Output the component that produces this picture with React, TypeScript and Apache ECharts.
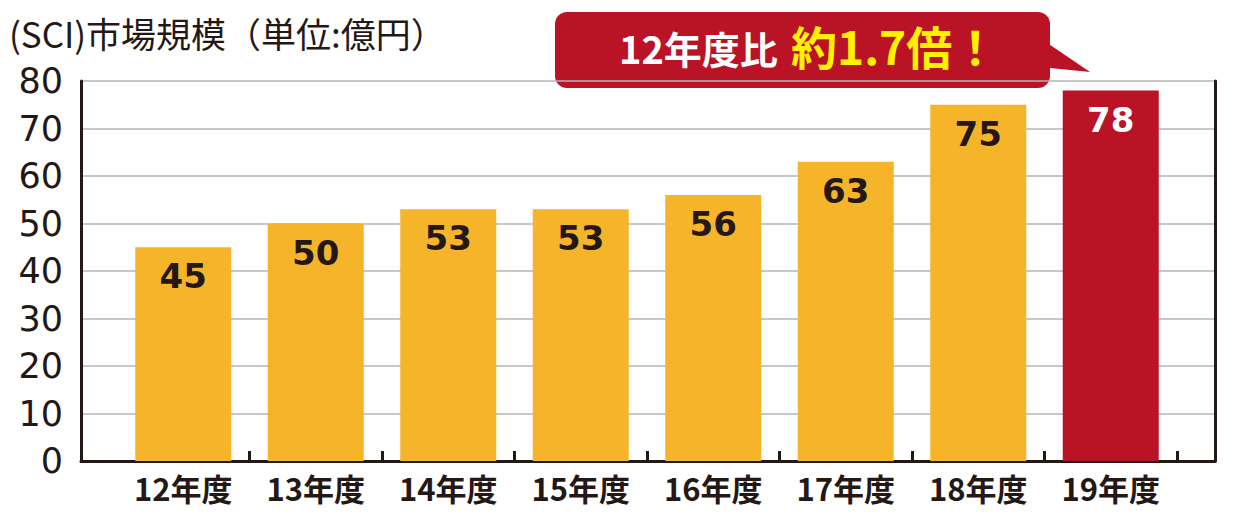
import { useEffect, useRef } from "react";
import * as echarts from "echarts";

const categories = ["12年度", "13年度", "14年度", "15年度", "16年度", "17年度", "18年度", "19年度"];
const marketSize = [45, 50, 53, 53, 56, 63, 75, 78];
const highlightCategories = ["19年度"];

const Y_MIN = 0;
const Y_MAX = 80;
const Y_STEP = 10;

const TITLE = "(SCI)市場規模（単位:億円）";
const CALLOUT_LEAD = "12年度比";
const CALLOUT_EMPHASIS = "約1.7倍！";

const INK = "#231815";
const ORANGE = "#F6B42B";
const RED = "#BA1326";
const YELLOW = "#FFF100";
const GRID_GRAY = "#B5B5B5";
const JP_FONT = "'Noto Sans CJK JP', 'Noto Sans', sans-serif";
const NUM_FONT = "'DejaVu Sans', 'Liberation Sans', sans-serif";

const FRAME_GRID = { left: 81, right: 24, top: 81, bottom: 58 };
const BAR_GRID = { left: 117, right: 62, top: 81, bottom: 58 };

function MarketSizeChart() {
  const containerRef = useRef<HTMLDivElement>(null);

  useEffect(() => {
    if (!containerRef.current) return;
    const chart = echarts.init(containerRef.current, undefined, { renderer: "svg" });

    chart.setOption({
      animation: false,
      backgroundColor: "#ffffff",
      title: {
        text: TITLE,
        left: 9,
        top: 15,
        padding: 0,
        textStyle: { fontFamily: JP_FONT, fontSize: 35, fontWeight: "normal", color: INK },
      },
      // frame grid (y axis, split lines, border) and the narrower bar grid inside it
      grid: [FRAME_GRID, BAR_GRID],
      xAxis: [
        {
          type: "value",
          gridIndex: 0,
          min: 0,
          max: 1,
          axisLine: { show: true, onZero: false, lineStyle: { color: INK, width: 3 } },
          axisTick: { show: false },
          axisLabel: { show: false },
          splitLine: { show: false },
        },
        {
          type: "category",
          gridIndex: 1,
          data: categories,
          axisLine: { show: false, onZero: false },
          // small inward ticks between categories
          axisTick: {
            show: true,
            inside: true,
            length: 10,
            interval: (index: number) => index > 0,
            lineStyle: { color: INK, width: 3 },
          },
          axisLabel: {
            margin: 11,
            fontFamily: JP_FONT,
            fontSize: 31,
            fontWeight: "bold",
            color: INK,
          },
        },
      ],
      yAxis: [
        {
          type: "value",
          gridIndex: 0,
          min: Y_MIN,
          max: Y_MAX,
          interval: Y_STEP,
          axisLine: { show: true, lineStyle: { color: INK, width: 3 } },
          axisTick: { show: false },
          axisLabel: { margin: 18, fontFamily: NUM_FONT, fontSize: 35, color: INK },
          splitLine: { show: true, lineStyle: { color: GRID_GRAY, width: 1.5 } },
        },
        {
          type: "value",
          gridIndex: 0,
          position: "right",
          min: Y_MIN,
          max: Y_MAX,
          interval: Y_STEP,
          axisLine: { show: true, lineStyle: { color: INK, width: 3 } },
          axisTick: { show: false },
          axisLabel: { show: false },
          splitLine: { show: false },
        },
        { type: "value", gridIndex: 1, min: Y_MIN, max: Y_MAX, show: false },
      ],
      series: [
        {
          type: "bar",
          xAxisIndex: 1,
          yAxisIndex: 2,
          barWidth: 96,
          z: 3,
          data: marketSize.map((value, i) => {
            const hot = highlightCategories.includes(categories[i]);
            return {
              value,
              itemStyle: { color: hot ? RED : ORANGE },
              label: { color: hot ? "#ffffff" : INK },
            };
          }),
          label: {
            show: true,
            position: "insideTop",
            distance: 12,
            fontFamily: NUM_FONT,
            fontSize: 34,
            lineHeight: 34,
            fontWeight: "bold",
          },
        },
      ],
      graphic: [
        {
          type: "group",
          z: 100,
          children: [
            {
              type: "polygon",
              shape: { points: [[1040, 38], [1090, 72], [1040, 67]] },
              style: { fill: RED },
            },
            {
              type: "rect",
              shape: { x: 555, y: 12, width: 495, height: 76, r: 12 },
              style: { fill: RED },
            },
            {
              type: "text",
              x: 619,
              y: 47,
              style: {
                text: CALLOUT_LEAD,
                fill: "#ffffff",
                font: `bold 38px ${JP_FONT}`,
                verticalAlign: "middle",
              },
            },
            {
              type: "text",
              x: 791,
              y: 45,
              style: {
                text: CALLOUT_EMPHASIS,
                fill: YELLOW,
                font: `bold 46px ${JP_FONT}`,
                verticalAlign: "middle",
              },
            },
          ],
        },
      ],
    });

    return () => chart.dispose();
  }, []);

  return <div ref={containerRef} style={{ position: "fixed", left: 0, top: 0, width: 1239, height: 519 }} />;
}

export default function App() {
  return <MarketSizeChart />;
}
